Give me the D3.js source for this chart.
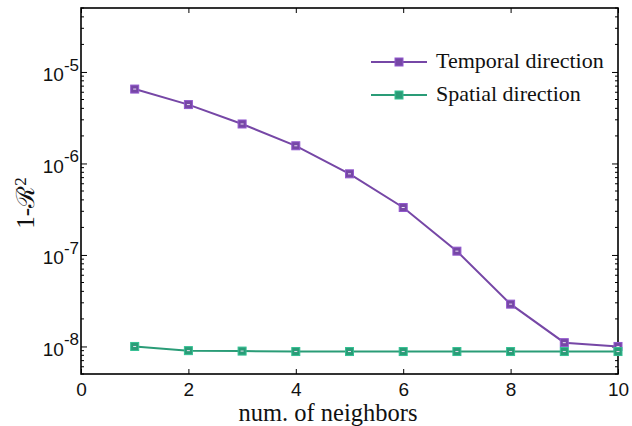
<!DOCTYPE html>
<html>
  <head>
    <meta charset="utf-8">
    <title>1-R2 vs number of neighbors</title>
    <script src="https://d3js.org/d3.v7.min.js"></script>
    <style>
      body { margin: 0; background: #fff; }
    </style>
  </head>
  <body>
    <svg id="chart" width="632" height="426"></svg>
    <script>
      // chart data
      const neighbors = [1, 2, 3, 4, 5, 6, 7, 8, 9, 10];
      const temporal = [6.5e-6, 4.4e-6, 2.7e-6, 1.56e-6, 7.7e-7, 3.3e-7, 1.1e-7, 2.9e-8, 1.1e-8, 1.0e-8];
      const spatial = [1.0e-8, 9.0e-9, 8.9e-9, 8.8e-9, 8.8e-9, 8.8e-9, 8.8e-9, 8.8e-9, 8.8e-9, 8.8e-9];
      const seriesNames = ["Temporal direction", "Spatial direction"];
      const seriesColors = ["#7647a6", "#2a9c77"];
      const xTicks = [0, 2, 4, 6, 8, 10];
      const yMajor = [1e-8, 1e-7, 1e-6, 1e-5];

      const sans = "'Liberation Sans', Arial, sans-serif";
      const serif = "'Liberation Serif', 'Times New Roman', serif";

      const svg = d3.select("#chart");
      const margin = { top: 8, right: 14, bottom: 52, left: 81 };
      const width = 632, height = 426;

      const x = d3.scaleLinear().domain([0, 10]).range([margin.left, width - margin.right]);
      const y = d3.scaleLog().domain([5e-9, 5e-5]).range([height - margin.bottom, margin.top]);

      // minor ticks for log axis
      const yMinor = [];
      for (let e = -9; e <= -5; e++) {
        for (let m = 2; m <= 9; m++) {
          const v = m * Math.pow(10, e);
          if (v >= 5e-9 && v <= 5e-5) yMinor.push(v);
        }
      }

      const frame = svg.append("g");

      // bottom axis
      const bottom = frame.append("g")
        .attr("transform", "translate(0," + (height - margin.bottom) + ")")
        .call(d3.axisBottom(x).tickValues(xTicks).tickSizeInner(-5).tickSizeOuter(0).tickPadding(9))
        .call(g => g.select(".domain").remove());
      bottom.attr("font-family", sans).attr("font-size", 19);
      bottom.selectAll(".tick text").attr("fill", "#111");
      // top axis ticks
      frame.append("g")
        .attr("transform", "translate(0," + margin.top + ")")
        .call(d3.axisTop(x).tickValues(xTicks).tickSizeInner(-5).tickSizeOuter(0).tickFormat(""))
        .call(g => g.select(".domain").remove());

      // left axis
      const left = frame.append("g")
        .attr("transform", "translate(" + margin.left + ",0)");
      left.call(d3.axisLeft(y).tickValues(yMajor).tickSizeInner(-6).tickSizeOuter(0).tickPadding(2)
          .tickFormat(d => ""))
        .call(g => g.select(".domain").remove());
      left.attr("font-family", sans).attr("font-size", 19);
      left.selectAll(".tick text").each(function(d) {
        const t = d3.select(this).attr("fill", "#111");
        const e = Math.round(Math.log10(d));
        t.attr("dy", "0.45em");
        t.append("tspan").text("10");
        t.append("tspan").attr("dy", "-0.6em").attr("font-size", 17).text(String(e));
      });
      left.append("g").selectAll("line").data(yMinor).join("line")
        .attr("x1", 0).attr("x2", 3)
        .attr("y1", d => y(d)).attr("y2", d => y(d))
        .attr("stroke", "#000");

      // right axis ticks
      const right = frame.append("g")
        .attr("transform", "translate(" + (width - margin.right) + ",0)");
      right.call(d3.axisRight(y).tickValues(yMajor).tickSizeInner(-6).tickSizeOuter(0).tickFormat(""))
        .call(g => g.select(".domain").remove());
      right.append("g").selectAll("line").data(yMinor).join("line")
        .attr("x1", 0).attr("x2", -3)
        .attr("y1", d => y(d)).attr("y2", d => y(d))
        .attr("stroke", "#000");

      // box
      svg.append("rect")
        .attr("x", margin.left).attr("y", margin.top)
        .attr("width", width - margin.left - margin.right)
        .attr("height", height - margin.top - margin.bottom)
        .attr("fill", "none").attr("stroke", "#000").attr("stroke-width", 1.6);

      // series
      const data = [temporal, spatial];
      const line = d3.line().x((d, i) => x(neighbors[i])).y(d => y(d));
      data.forEach(function(vals, k) {
        const g = svg.append("g");
        g.append("path")
          .attr("d", line(vals))
          .attr("fill", "none")
          .attr("stroke", seriesColors[k])
          .attr("stroke-width", 2);
        g.selectAll("rect").data(vals).join("rect")
          .attr("x", (d, i) => x(neighbors[i]) - 4)
          .attr("y", d => y(d) - 4)
          .attr("width", 8).attr("height", 8)
          .attr("fill", seriesColors[k])
          .attr("stroke", d3.color(seriesColors[k]).brighter(0.6))
          .attr("stroke-width", 1);
        g.selectAll("line").data(vals).join("line")
          .attr("x1", (d, i) => x(neighbors[i]) - 1.5)
          .attr("x2", (d, i) => x(neighbors[i]) + 1.5)
          .attr("y1", d => y(d)).attr("y2", d => y(d))
          .attr("stroke", "#e8e0f0").attr("stroke-width", 1);
      });

      // legend
      const legend = svg.append("g")
        .attr("font-family", serif).attr("font-size", 22).attr("fill", "#111");
      seriesNames.forEach(function(name, k) {
        const ly = 62 + k * 33;
        legend.append("line")
          .attr("x1", 371).attr("x2", 427).attr("y1", ly).attr("y2", ly)
          .attr("stroke", seriesColors[k]).attr("stroke-width", 2);
        legend.append("rect")
          .attr("x", 395).attr("y", ly - 4).attr("width", 8).attr("height", 8)
          .attr("fill", seriesColors[k])
          .attr("stroke", d3.color(seriesColors[k]).brighter(0.6));
        legend.append("text")
          .attr("x", 436).attr("y", ly + 6)
          .text(name);
      });

      // titles
      svg.append("text")
        .attr("font-family", serif).attr("font-size", 24.5).attr("fill", "#111")
        .attr("x", 328).attr("y", 421)
        .attr("text-anchor", "middle")
        .text("num. of neighbors");
      const yt = svg.append("text")
        .attr("font-family", serif).attr("font-size", 25).attr("fill", "#111")
        .attr("transform", "translate(34,203) rotate(-90)")
        .attr("text-anchor", "middle");
      yt.append("tspan").text("1-\u211B");
      yt.append("tspan").attr("dy", "-0.5em").attr("font-size", 17).text("2");
    </script>
  </body>
</html>
